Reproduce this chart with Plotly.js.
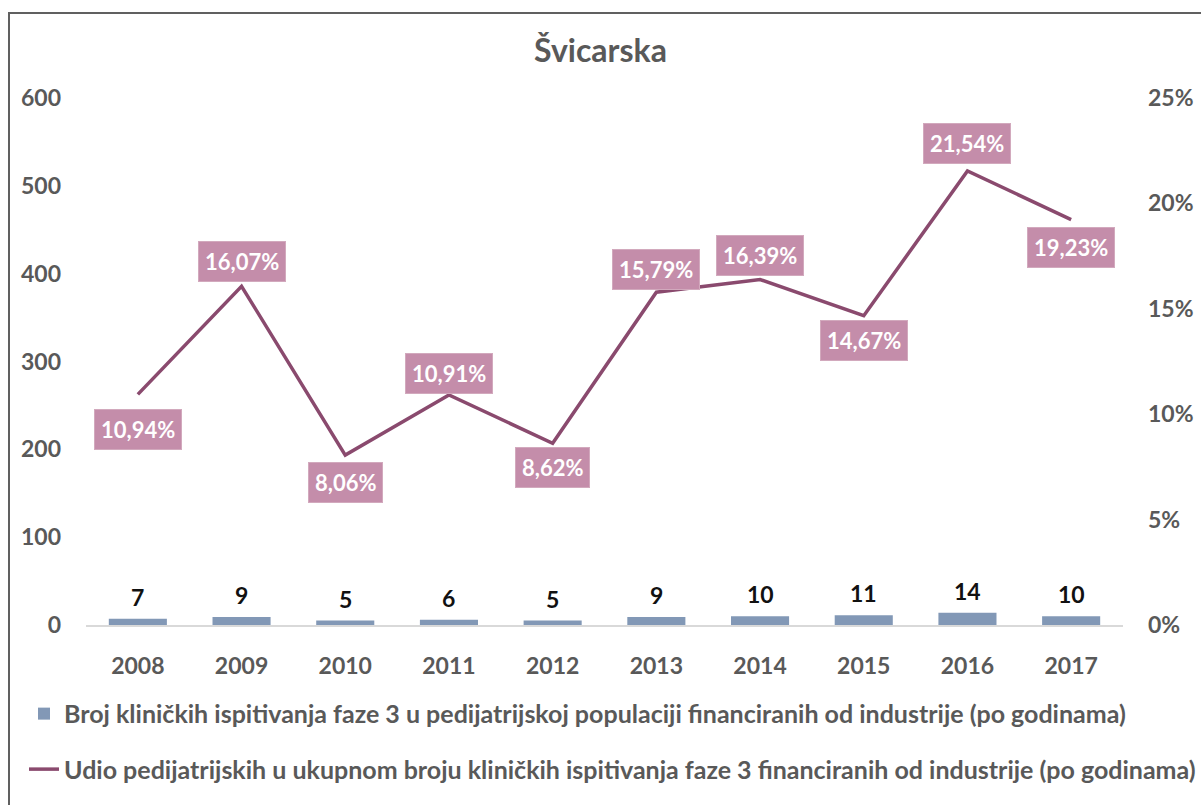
<!DOCTYPE html>
<html>
<head>
<meta charset="utf-8">
<script src="https://cdn.plot.ly/plotly-3.0.1.min.js"></script>
<style>
  html, body { margin: 0; padding: 0; background: #fff; overflow: hidden; }
  #chart { width: 1201px; height: 805px; }
  #frame { position: absolute; left: 8px; top: 12px; width: 1400px; height: 1000px;
           border: 2px solid #606060; pointer-events: none; box-sizing: border-box; }
</style>
</head>
<body>
<div id="chart"></div>
<div id="frame"></div>
<script>
const years = ['2008','2009','2010','2011','2012','2013','2014','2015','2016','2017'];
const trialCounts = [7, 9, 5, 6, 5, 9, 10, 11, 14, 10];
const pediatricShare = [10.94, 16.07, 8.06, 10.91, 8.62, 15.79, 16.39, 14.67, 21.54, 19.23];
const leftTicks = [0, 100, 200, 300, 400, 500, 600];
const rightTicks = [0, 5, 10, 15, 20, 25];
const rightTickLabels = ['0%', '5%', '10%', '15%', '20%', '25%'];
const barName = 'Broj kliničkih ispitivanja faze 3 u pedijatrijskoj populaciji financiranih od industrije (po godinama)';
const lineName = 'Udio pedijatrijskih u ukupnom broju kliničkih ispitivanja faze 3 financiranih od industrije (po godinama)';
const chartTitle = 'Švicarska';

// label placement (style only)
const labelShift = [35, -25, 27, -22, 24, -23, -24, 25, -27, 28];

const FONT = 'Lato, "Open Sans", sans-serif';
const GRAY = '#595959';

const fmtPct = v => v.toFixed(2).replace('.', ',') + '%';

const traces = [
  {
    type: 'bar', x: years, y: trialCounts, name: barName,
    marker: { color: '#8298b6' }, width: 0.56,
    legendgroup: 'a'
  },
  {
    type: 'scatter', mode: 'lines', x: years, y: pediatricShare, name: lineName,
    yaxis: 'y2', line: { color: '#8a4a6e', width: 3.5 },
    legendgroup: 'b'
  }
];

const annotations = [];
years.forEach((yr, i) => {
  annotations.push({
    x: i, y: pediatricShare[i], xref: 'x', yref: 'y2',
    text: fmtPct(pediatricShare[i]), showarrow: false,
    yshift: -labelShift[i],
    font: { family: FONT, size: 22, color: '#ffffff', weight: 'bold' },
    bgcolor: '#c48daa', bordercolor: '#d2a9bd', borderwidth: 1, borderpad: 6
  });
  annotations.push({
    x: i, y: trialCounts[i], xref: 'x', yref: 'y',
    text: String(trialCounts[i]), showarrow: false,
    yshift: 22,
    font: { family: FONT, size: 23, color: '#111111', weight: 'bold' }
  });
});

const tf = { family: FONT, size: 23, color: GRAY, weight: 'bold' };

const layout = {
  width: 1201, height: 805,
  margin: { l: 86, r: 78, t: 98, b: 180 },
  paper_bgcolor: '#ffffff', plot_bgcolor: '#ffffff',
  font: { family: FONT, color: GRAY },
  title: { text: chartTitle, x: 0.5, xanchor: 'center', y: 0.937, yanchor: 'middle',
           font: { family: FONT, size: 32, color: GRAY, weight: 'bold' } },
  xaxis: {
    type: 'category', showgrid: false, showline: true, linecolor: '#d9d9d9', linewidth: 1.5,
    ticks: '', tickfont: tf, ticklabelstandoff: 20,
    range: [-0.5, 9.5]
  },
  yaxis: {
    range: [0, 600], tickvals: leftTicks, showgrid: false, zeroline: false, showline: false,
    ticks: '', tickfont: tf, ticklabelstandoff: 24
  },
  yaxis2: {
    overlaying: 'y', side: 'right', range: [0, 25], tickvals: rightTicks,
    ticktext: rightTickLabels,
    showgrid: false, zeroline: false, showline: false, ticks: '',
    tickfont: tf, ticklabelstandoff: 24
  },
  showlegend: true,
  legend: {
    orientation: 'v', x: -0.05, xanchor: 'left', y: -0.125, yanchor: 'top',
    traceorder: 'grouped', tracegroupgap: 20, itemwidth: 30,
    font: { family: FONT, size: 25, color: GRAY, weight: 'bold' }, bgcolor: 'rgba(0,0,0,0)'
  },
  annotations: annotations
};

Plotly.newPlot('chart', traces, layout, { displayModeBar: false, staticPlot: true });
</script>
</body>
</html>
